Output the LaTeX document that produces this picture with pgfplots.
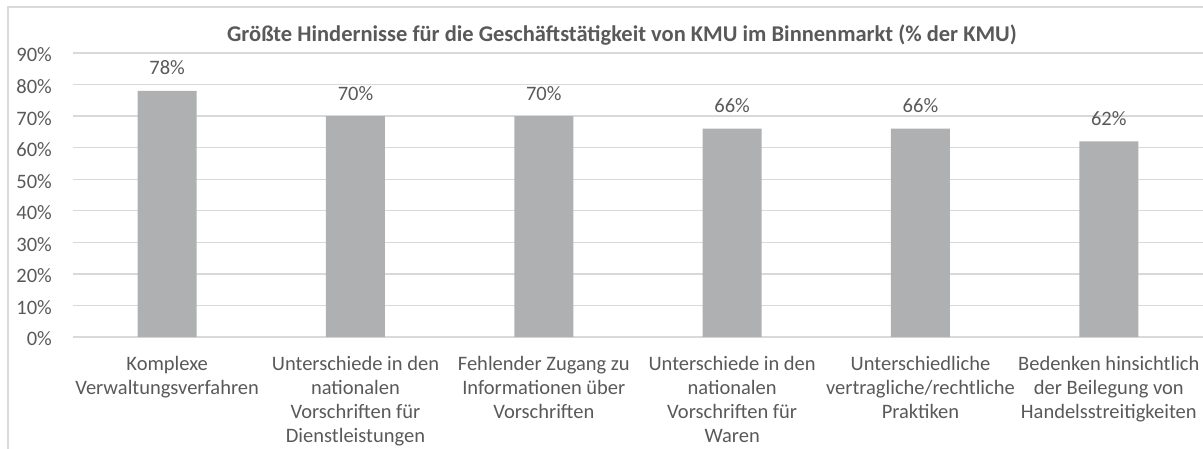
\documentclass[border=0pt]{standalone}
\usepackage{pgfplots}
\pgfplotsset{compat=1.18}
\usepackage{fontspec}
\setmainfont{Carlito}
\definecolor{txt}{HTML}{595959}
\definecolor{gridc}{HTML}{D9D9D9}
\definecolor{barc}{HTML}{AFB0B1}
\begin{document}
\begin{tikzpicture}[x=1pt,y=1pt]
\begin{axis}[
  scale only axis,
  width=1130pt, height=284pt,
  xmin=-0.5, xmax=5.5,
  ymin=0, ymax=90,
  /pgf/number format/assume math mode=true,
  axis line style={draw=none},
  major tick length=0pt,
  ymajorgrids,
  grid style={gridc, line width=1.3pt},
  ytick={0,10,...,90},
  yticklabels={0\%,10\%,20\%,30\%,40\%,50\%,60\%,70\%,80\%,90\%},
  xtick={0,...,5},
  xticklabels={
    {Komplexe\\Verwaltungsverfahren},
    {Unterschiede in den\\nationalen\\Vorschriften für\\Dienstleistungen},
    {Fehlender Zugang zu\\Informationen über\\Vorschriften},
    {Unterschiede in den\\nationalen\\Vorschriften für\\Waren},
    {Unterschiedliche\\vertragliche/rechtliche\\Praktiken},
    {Bedenken hinsichtlich\\der Beilegung von\\Handelsstreitigkeiten}},
  x tick label style={font=\fontsize{20.5}{24}\selectfont, align=center, text=txt, inner sep=0pt, yshift=-19pt},
  y tick label style={font=\fontsize{20.5}{24}\selectfont, text=txt, inner sep=0pt, xshift=-21pt, yshift=-2pt},
  nodes near coords={\pgfmathprintnumber{\pgfplotspointmeta}\%},
  every node near coord/.append style={font=\fontsize{20.5}{24}\selectfont, text=txt, anchor=center, yshift=23pt},
]
\addplot[ybar, bar width=59pt, fill=barc, draw=none] coordinates {
  (0,78) (1,70) (2,70) (3,66) (4,66) (5,62)
};
\end{axis}
\node[font=\fontsize{22.5}{26}\selectfont\bfseries, text=txt] at (549,302) {Größte Hindernisse für die Geschäftstätigkeit von KMU im Binnenmarkt (\% der KMU)};
\draw[gridc, line width=1.3pt] (-65,-130) rectangle (1145,330);
\pgfresetboundingbox
\path[use as bounding box] (-73,-111) rectangle (1130,337);
\end{tikzpicture}
\end{document}
